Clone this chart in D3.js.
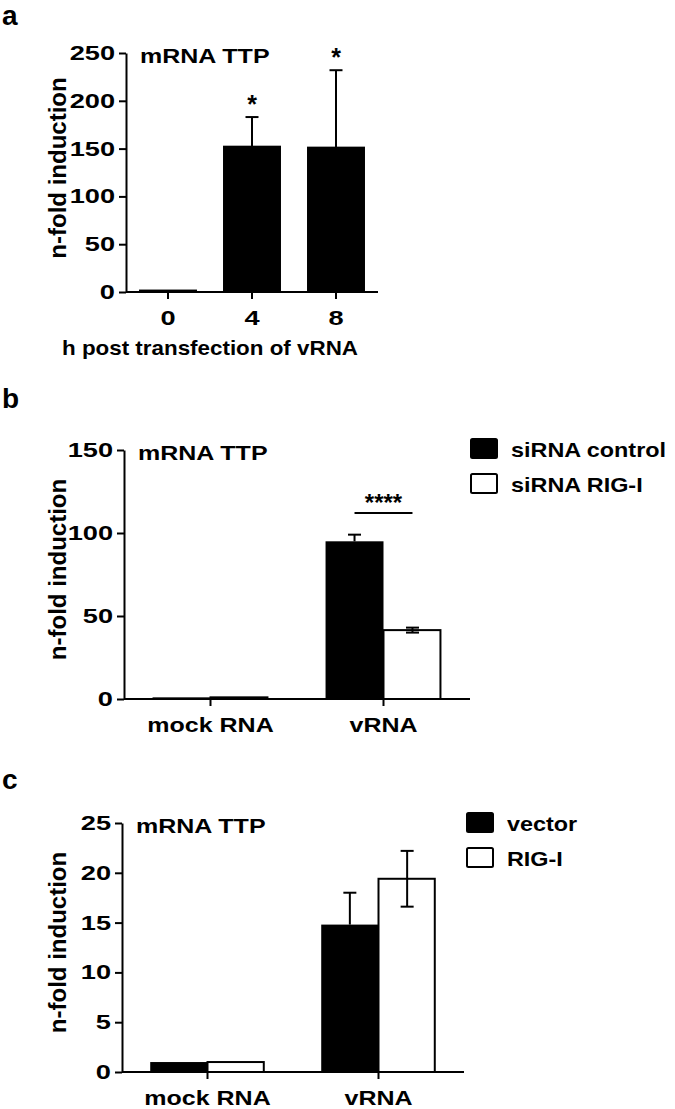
<!DOCTYPE html>
<html>
<head>
<meta charset="utf-8">
<script src="https://cdn.jsdelivr.net/npm/d3@7"></script>
<style>
  body { margin: 0; background: #fff; }
  text { font-family: "Liberation Sans", Arial, sans-serif; font-weight: bold; fill: #000; }
</style>
</head>
<body>
<div id="chart"></div>
<script>
// panel a: time course
const timeCategories = ['0', '4', '8'];
const timeValues = [1.5, 152, 151];
const timeErrors = [0, 31, 81];
const timeStars = ['', '*', '*'];
const timeTicks = [0, 50, 100, 150, 200, 250];

// panel b: siRNA knockdown
const groupCategories = ['mock RNA', 'vRNA'];
const sirnaSeries = ['siRNA control', 'siRNA RIG-I'];
const sirnaControl = [1, 95];
const sirnaControlErr = [0, 4];
const sirnaRigi = [1, 41.5];
const sirnaRigiErr = [0, 1.5];
const sirnaTicks = [0, 50, 100, 150];
const sirnaSigLevel = 112;
const sirnaSigLabel = '****';

// panel c: overexpression
const overSeries = ['vector', 'RIG-I'];
const overVector = [1, 14.8];
const overVectorErr = [0, 3.2];
const overRigi = [1, 19.4];
const overRigiErr = [0, 2.8];
const overTicks = [0, 5, 10, 15, 20, 25];

const W = 675, H = 1109;
const FS = 20, SX = 1.25, SX_NUM = 1.36;
const svg = d3.select('#chart').append('svg')
  .attr('width', W)
  .attr('height', H);
svg.append('rect').attr('width', W).attr('height', H).attr('fill', '#fff');

// horizontal stretch of text around its own x
function stretch(sel, k) {
  sel.each(function () {
    const t = d3.select(this);
    const x = +t.attr('x') || 0;
    t.attr('transform', `translate(${x},0) scale(${k},1) translate(${-x},0)`);
  });
}

function styleAxis(g, k) {
  g.selectAll('path, line').attr('stroke', '#000').attr('stroke-width', 2);
  g.selectAll('text').attr('font-size', FS).attr('fill', '#000')
    .style('font-family', '"Liberation Sans", Arial, sans-serif').style('font-weight', 'bold');
  stretch(g.selectAll('text'), k);
}

function drawAxes(x, y, ticks, left, base, kx) {
  const gy = svg.append('g')
    .attr('transform', `translate(${left},0)`)
    .call(d3.axisLeft(y).tickValues(ticks).tickSize(7).tickSizeOuter(0).tickPadding(4));
  styleAxis(gy, SX_NUM);
  const gx = svg.append('g')
    .attr('transform', `translate(0,${base})`)
    .call(d3.axisBottom(x).tickSize(7).tickSizeOuter(0).tickPadding(12));
  gx.select('.domain').attr('d', `M${left},0H${x.range()[1]}`);
  styleAxis(gx, kx);
}

function label(x, y, txt, size, k) {
  const t = svg.append('text').attr('x', x).attr('y', y).attr('font-size', size).text(txt);
  if (k) stretch(t, k);
  return t;
}

function yTitle(cx, cy) {
  svg.append('text')
    .attr('transform', `translate(${cx},${cy}) rotate(-90)`)
    .attr('text-anchor', 'middle')
    .attr('font-size', 24)
    .text('n-fold induction');
}

function errorBar(cx, yTop, yEnd, cap) {
  svg.append('line').attr('x1', cx).attr('x2', cx).attr('y1', yTop).attr('y2', yEnd)
    .attr('stroke', '#000').attr('stroke-width', 2);
  svg.append('line').attr('x1', cx - cap / 2).attr('x2', cx + cap / 2).attr('y1', yEnd).attr('y2', yEnd)
    .attr('stroke', '#000').attr('stroke-width', 2);
}

// ---- panel a ----
{
  const x = d3.scaleBand().domain(timeCategories).range([126, 378]).paddingInner(0.31).paddingOuter(0.155);
  const y = d3.scaleLinear().domain([0, 250]).range([292, 53]);
  const data = timeCategories.map((c, i) => ({ c, v: timeValues[i], e: timeErrors[i], s: timeStars[i] }));

  svg.append('g').selectAll('rect').data(data).enter().append('rect')
    .attr('x', d => x(d.c))
    .attr('y', d => y(d.v) - 1)
    .attr('width', x.bandwidth())
    .attr('height', d => y(0) - y(d.v) + 1)
    .attr('fill', '#000');

  data.filter(d => d.e > 0).forEach(d => {
    const cx = x(d.c) + x.bandwidth() / 2;
    errorBar(cx, y(d.v), y(d.v + d.e), 13);
  });
  data.filter(d => d.s).forEach(d => {
    svg.append('text')
      .attr('x', x(d.c) + x.bandwidth() / 2)
      .attr('y', y(d.v + d.e) - 4)
      .attr('text-anchor', 'middle')
      .attr('font-size', 25)
      .text(d.s);
  });

  drawAxes(x, y, timeTicks, 126, 292, SX_NUM);
  label(140, 63, 'mRNA TTP', FS, SX);
  yTitle(66, 168);
  label(210, 355, 'h post transfection of vRNA', FS, 1.12).attr('text-anchor', 'middle');
  label(2, 25, 'a', 28);
}

// ---- grouped panels b and c ----
function groupedPanel(opts) {
  const x0 = d3.scaleBand().domain(groupCategories).range([opts.left, opts.right])
    .paddingInner(0.33).paddingOuter(0.165);
  const x1 = d3.scaleBand().domain(opts.series).range([0, x0.bandwidth()]);
  const y = d3.scaleLinear().domain([0, opts.max]).range([opts.base, opts.top]);
  const fills = ['#000', '#fff'];

  opts.series.forEach((s, si) => {
    const vals = opts.values[si], errs = opts.errors[si];
    groupCategories.forEach((g, gi) => {
      const bx = x0(g) + x1(s);
      svg.append('rect')
        .attr('x', bx)
        .attr('y', y(vals[gi]))
        .attr('width', x1.bandwidth() - (si ? 1 : 0))
        .attr('height', y(0) - y(vals[gi]))
        .attr('fill', fills[si])
        .attr('stroke', '#000')
        .attr('stroke-width', si ? 2 : 0);
      if (errs[gi] > 0) {
        const cx = bx + x1.bandwidth() / 2;
        errorBar(cx, y(vals[gi]), y(vals[gi] + errs[gi]), 13);
        if (si) errorBar(cx, y(vals[gi]), y(vals[gi] - errs[gi]), 13);
      }
    });
  });

  drawAxes(x0, y, opts.ticks, opts.left, opts.base, SX);
  label(opts.left + 14, opts.top + 10, 'mRNA TTP', FS, SX);
  yTitle(66, (opts.top + opts.base) / 2 - 5);
  label(2, opts.letterY, opts.letter, 28);

  // legend
  opts.series.forEach((s, i) => {
    const ly = opts.legendY + i * 35;
    svg.append('rect').attr('x', opts.legendX).attr('y', ly).attr('width', 26).attr('height', 19)
      .attr('rx', 1.5).attr('fill', fills[i]).attr('stroke', '#000').attr('stroke-width', 2);
    label(opts.legendX + 40, ly + 18, s, FS, 1.17);
  });
  return { x0, x1, y };
}

// ---- panel b ----
{
  const sc = groupedPanel({
    left: 124, right: 470, top: 450, base: 699, max: 150,
    series: sirnaSeries, values: [sirnaControl, sirnaRigi], errors: [sirnaControlErr, sirnaRigiErr],
    ticks: sirnaTicks, letter: 'b', letterY: 408, legendX: 471, legendY: 439
  });
  const g = 'vRNA';
  const xa = sc.x0(g) + sc.x1(sirnaSeries[0]) + sc.x1.bandwidth() / 2;
  const xb = sc.x0(g) + sc.x1(sirnaSeries[1]) + sc.x1.bandwidth() / 2;
  const ly = sc.y(sirnaSigLevel);
  svg.append('line').attr('x1', xa).attr('x2', xb).attr('y1', ly).attr('y2', ly)
    .attr('stroke', '#000').attr('stroke-width', 2);
  svg.append('text').attr('x', (xa + xb) / 2).attr('y', ly - 2).attr('text-anchor', 'middle')
    .attr('font-size', 24).text(sirnaSigLabel);
}

// ---- panel c ----
groupedPanel({
  left: 122, right: 464, top: 823, base: 1072, max: 25,
  series: overSeries, values: [overVector, overRigi], errors: [overVectorErr, overRigiErr],
  ticks: overTicks, letter: 'c', letterY: 789, legendX: 467, legendY: 813
});
</script>
</body>
</html>
